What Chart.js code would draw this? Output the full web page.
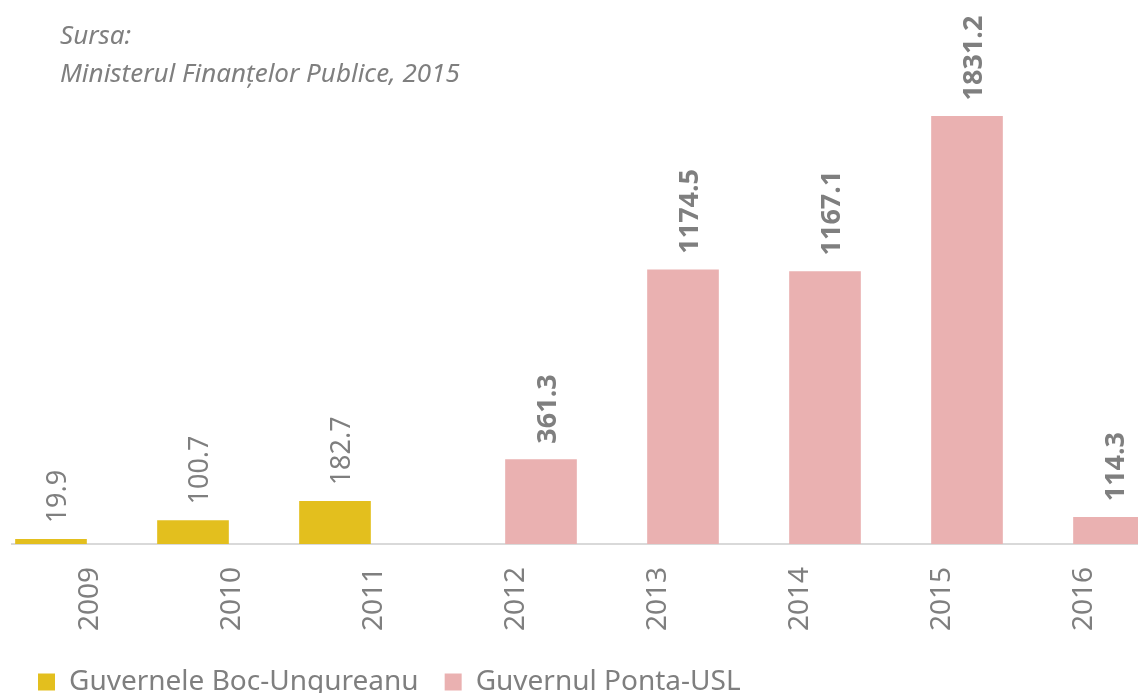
<!DOCTYPE html>
<html>
<head>
<meta charset="utf-8">
<script src="https://cdn.jsdelivr.net/npm/chart.js@4.4.1/dist/chart.umd.min.js"></script>
<style>
  html, body { margin: 0; padding: 0; background: #fff; overflow: hidden; }
  #wrap { position: relative; width: 1138px; height: 693px; overflow: hidden; }
  #sursa {
    position: absolute; left: 60px; top: 15px;
    font-family: "Noto Sans", sans-serif; font-style: italic;
    font-size: 26px; line-height: 38px; color: #7f7f7f;
  }
  canvas { position: absolute; left: 0; top: 0; }
</style>
</head>
<body>
<div id="wrap">
  <canvas id="chart" width="1150" height="706"></canvas>
  <div id="sursa">Sursa:<br>Ministerul Finanțelor Publice, 2015</div>
</div>
<script>
// ani si valori (mil. lei)
const years = ['2009', '2010', '2011', '2012', '2013', '2014', '2015', '2016'];
const bocValues = [19.9, 100.7, 182.7, null, null, null, null, null];
const pontaValues = [null, null, null, 361.3, 1174.5, 1167.1, 1831.2, 114.3];
const seriesNames = ['Guvernele Boc-Ungureanu', 'Guvernul Ponta-USL'];

const yellow = '#E3BF1E';
const pink = '#EAB1B1';
const grey = '#7f7f7f';

// etichete rotite deasupra barelor
const valueLabels = {
    id: 'valueLabels',
    afterDatasetsDraw(chart) {
        const ctx = chart.ctx;
        chart.data.datasets.forEach(function(ds, i) {
            const meta = chart.getDatasetMeta(i);
            meta.data.forEach(function(bar, j) {
                const v = ds.data[j];
                if (v === null) return;
                ctx.save();
                ctx.translate(bar.x + 7, bar.y - 16);
                ctx.rotate(-Math.PI / 2);
                ctx.font = (i === 1 ? 'bold ' : '') + '27px "Noto Sans"';
                ctx.fillStyle = grey;
                ctx.textAlign = 'left';
                ctx.textBaseline = 'middle';
                ctx.fillText(v.toFixed(1), 0, 0);
                ctx.restore();
            });
        });
    }
};

const ctx = document.getElementById('chart').getContext('2d');

const chart = new Chart(ctx, {
    type: 'bar',
    data: {
        labels: years,
        datasets: [{
            label: seriesNames[0],
            data: bocValues,
            backgroundColor: yellow
        }, {
            label: seriesNames[1],
            data: pontaValues,
            backgroundColor: pink
        }]
    },
    options: {
        responsive: false,
        animation: false,
        devicePixelRatio: 1,
        categoryPercentage: 128 / 142,
        barPercentage: 71 / 64,
        layout: {
            padding: { left: 12, right: 2, top: 77, bottom: 0 }
        },
        scales: {
            x: {
                grid: { display: false, drawTicks: false },
                border: { display: true, color: '#d9d9d9', width: 2 },
                ticks: {
                    color: grey,
                    font: { family: 'Noto Sans', size: 28 },
                    minRotation: 90,
                    maxRotation: 90,
                    padding: 23,
                    labelOffset: 7
                },
                afterFit: function(scale) {
                    scale.height = 98;
                }
            },
            y: {
                display: false,
                min: 0,
                max: 2000
            }
        },
        plugins: {
            legend: {
                position: 'bottom',
                align: 'start',
                labels: {
                    boxWidth: 17,
                    boxHeight: 17,
                    padding: 26,
                    color: grey,
                    font: { family: 'Noto Sans', size: 28 }
                }
            },
            tooltip: { enabled: false }
        }
    },
    plugins: [valueLabels]
});
</script>
</body>
</html>
